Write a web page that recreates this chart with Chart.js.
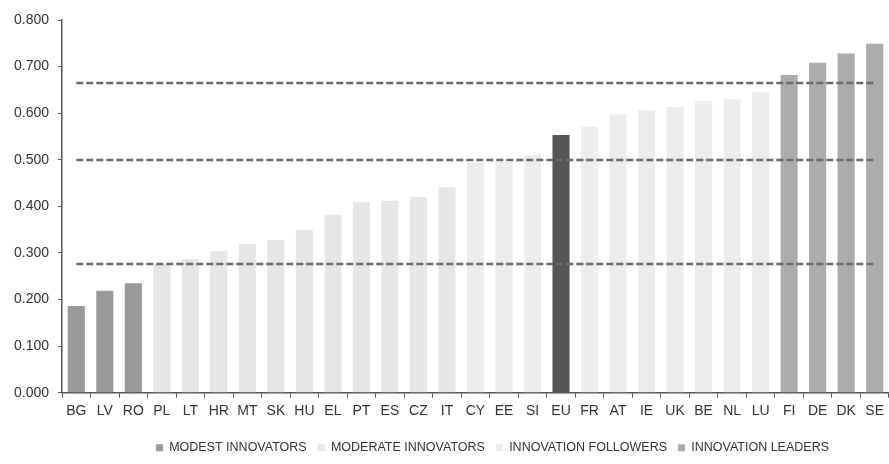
<!DOCTYPE html>
<html>
<head>
<meta charset="utf-8">
<script src="https://cdn.jsdelivr.net/npm/chart.js@4/dist/chart.umd.min.js"></script>
<style>
    html, body { margin: 0; padding: 0; background: #fff; }
    #wrap { width: 889px; height: 464px; }
</style>
</head>
<body>
<div id="wrap"><canvas id="scoreChart" width="889" height="464"></canvas></div>
<script>
const countries = ['BG', 'LV', 'RO', 'PL', 'LT', 'HR', 'MT', 'SK', 'HU', 'EL', 'PT', 'ES', 'CZ', 'IT',
    'CY', 'EE', 'SI', 'EU', 'FR', 'AT', 'IE', 'UK', 'BE', 'NL', 'LU', 'FI', 'DE', 'DK', 'SE'];
const scores = [0.186, 0.219, 0.235, 0.276, 0.287, 0.304, 0.319, 0.328, 0.350, 0.382, 0.409, 0.412, 0.420, 0.441,
    0.493, 0.495, 0.511, 0.553, 0.571, 0.597, 0.606, 0.613, 0.626, 0.630, 0.645, 0.682, 0.708, 0.728, 0.749];

const modest = ['BG', 'LV', 'RO'];
const moderate = ['PL', 'LT', 'HR', 'MT', 'SK', 'HU', 'EL', 'PT', 'ES', 'CZ', 'IT'];
const followers = ['CY', 'EE', 'SI', 'FR', 'AT', 'IE', 'UK', 'BE', 'NL', 'LU'];
const leaders = ['FI', 'DE', 'DK', 'SE'];
const average = ['EU'];

// group boundaries drawn as dashed lines
const thresholds = [0.277, 0.500, 0.665];
const yTicks = [0, 0.1, 0.2, 0.3, 0.4, 0.5, 0.6, 0.7, 0.8];

const font = 'Liberation Sans, Arial, sans-serif';

function groupData(members) {
    return countries.map((c, i) => (members.includes(c) ? scores[i] : null));
}

const groups = [
    { label: 'MODEST INNOVATORS', members: modest, color: '#999999' },
    { label: 'MODERATE INNOVATORS', members: moderate, color: '#e6e6e6' },
    { label: 'INNOVATION FOLLOWERS', members: followers, color: '#ececec' },
    { label: 'INNOVATION LEADERS', members: leaders, color: '#acacac' },
    { label: 'EU', members: average, color: '#555555' },
];

const thresholdLines = {
    id: 'thresholdLines',
    afterDatasetsDraw(chart) {
        const { ctx, scales: { x, y } } = chart;
        const x0 = x.getPixelForValue(0);
        const x1 = x.getPixelForValue(countries.length - 1);
        ctx.save();
        ctx.strokeStyle = '#6a6a6a';
        ctx.lineWidth = 2.5;
        ctx.setLineDash([7, 3]);
        thresholds.forEach(t => {
            const py = Math.round(y.getPixelForValue(t));
            ctx.beginPath();
            ctx.moveTo(x0, py);
            ctx.lineTo(x1, py);
            ctx.stroke();
        });
        ctx.restore();
    },
};

// nudge the legend row a little to the right of the plot centre
const legendShift = {
    id: 'legendShift',
    afterLayout(chart) {
        chart.legend.left += 17;
        chart.legend.right += 17;
    },
};

new Chart(document.getElementById('scoreChart'), {
    type: 'bar',
    data: {
        labels: countries,
        datasets: groups.map(g => ({
            label: g.label,
            data: groupData(g.members),
            backgroundColor: g.color,
            borderWidth: 0,
            barPercentage: 0.6,
            categoryPercentage: 1,
        })),
    },
    options: {
        responsive: false,
        animation: false,
        layout: {
            padding: { top: 20, left: 5, right: -2, bottom: 0 },
        },
        plugins: {
            tooltip: { enabled: false },
            legend: {
                position: 'bottom',
                fullSize: false,
                labels: {
                    filter: item => item.text !== 'EU',
                    boxWidth: 7,
                    boxHeight: 7,
                    padding: 11,
                    color: '#333',
                    font: { family: font, size: 12.5 },
                },
            },
        },
        scales: {
            x: {
                stacked: true,
                afterFit: axis => {
                    // extra room between the country codes and the legend
                    axis.height += 6;
                },
                grid: {
                    display: true,
                    offset: true,
                    drawOnChartArea: false,
                    drawTicks: true,
                    tickLength: 5,
                    color: '#555',
                },
                border: { color: '#555', width: 1.5 },
                ticks: {
                    autoSkip: false,
                    maxRotation: 0,
                    padding: 5,
                    color: '#333',
                    font: { family: font, size: 14 },
                },
            },
            y: {
                stacked: false,
                min: 0,
                max: 0.8,
                afterBuildTicks: axis => {
                    axis.ticks = yTicks.map(v => ({ value: v }));
                },
                grid: {
                    drawOnChartArea: false,
                    drawTicks: true,
                    tickLength: 4,
                    color: '#555',
                },
                border: { color: '#555', width: 1.5 },
                ticks: {
                    padding: 9,
                    color: '#333',
                    font: { family: font, size: 14 },
                    callback: v => Number(v).toFixed(3),
                },
            },
        },
    },
    plugins: [thresholdLines, legendShift],
});
</script>
</body>
</html>
